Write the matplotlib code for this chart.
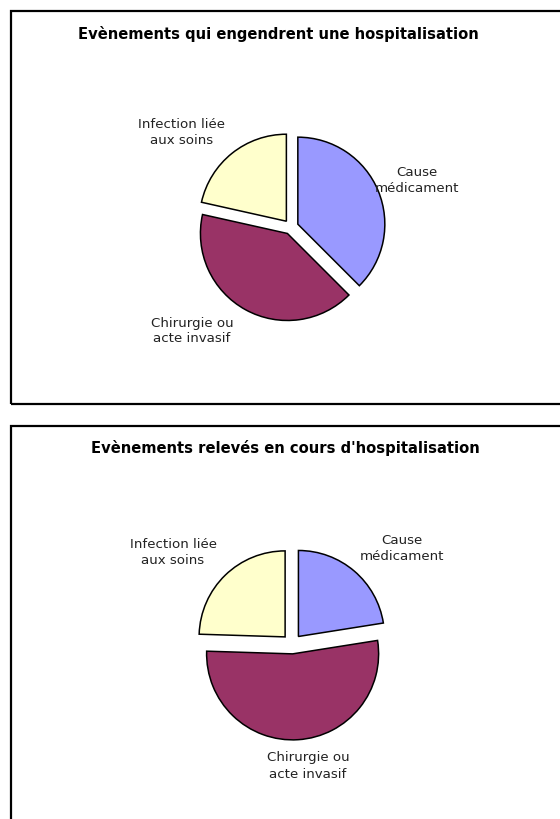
import matplotlib
matplotlib.use("Agg")
import matplotlib.pyplot as plt
from matplotlib.patches import Rectangle

FIG_W, FIG_H = 560, 819
DPI = 100

categories = ["Cause\nmédicament", "Chirurgie ou\nacte invasif", "Infection liée\naux soins"]
colors = ["#9999FF", "#993366", "#FFFFCC"]

# part des évènements (%)
values_admission = [37.5, 41.0, 21.5]
values_stay = [22.5, 53.0, 24.5]

titles = [
    "Evènements qui engendrent une hospitalisation",
    "Evènements relevés en cours d'hospitalisation",
]


def fx(x):
    return x / FIG_W


def fy(y):
    return 1 - y / FIG_H


def draw_pie(fig, values, center, radius, explode, label_pos):
    size = 320
    ax = fig.add_axes([fx(center[0] - size / 2), fy(center[1] + size / 2),
                       size / FIG_W, size / FIG_H])
    ax.pie(values, colors=colors, startangle=90, counterclock=False,
           explode=[explode] * len(values),
           wedgeprops={"edgecolor": "black", "linewidth": 1.1})
    half = size / 2 / radius
    ax.set_xlim(-half, half)
    ax.set_ylim(-half, half)
    ax.set_aspect("equal")
    ax.axis("off")
    for label, (x, y) in zip(categories, label_pos):
        fig.text(fx(x), fy(y), label, ha="center", va="center",
                 fontsize=9.6, color="#222222", linespacing=1.3)


fig = plt.figure(figsize=(FIG_W / DPI, FIG_H / DPI), dpi=DPI)

# cadres
for top, bottom in [(11, 404), (426, 830)]:
    fig.add_artist(Rectangle((fx(11), fy(bottom)), fx(570) - fx(11), fy(top) - fy(bottom),
                             transform=fig.transFigure, fill=False,
                             edgecolor="black", linewidth=1.6, clip_on=False))

fig.text(fx(278), fy(34), titles[0], ha="center", va="center",
         fontsize=10.6, fontweight="bold")
fig.text(fx(285), fy(448), titles[1], ha="center", va="center",
         fontsize=10.6, fontweight="bold")

draw_pie(fig, values_admission, (291, 227), 87, 0.085,
         [(417, 181), (192, 331), (182, 132)])
draw_pie(fig, values_stay, (292, 644), 86, 0.115,
         [(402, 549), (308, 766), (173, 553)])

fig.savefig("out.png", dpi=DPI)
